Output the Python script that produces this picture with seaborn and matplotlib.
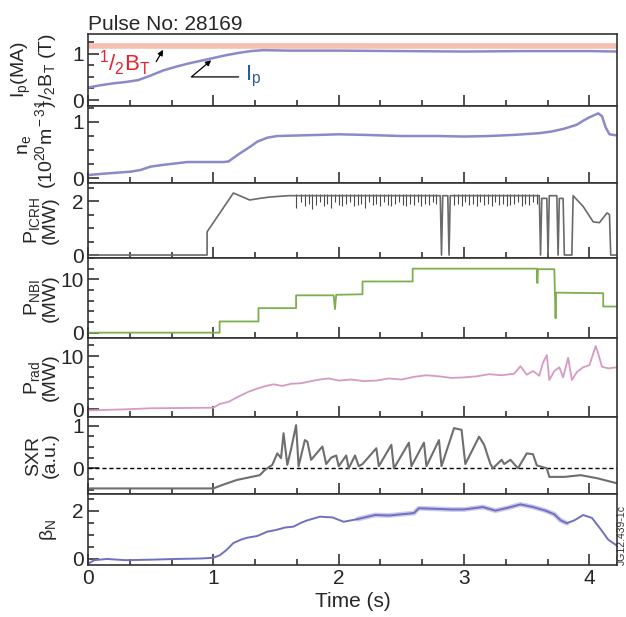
import matplotlib
matplotlib.use("Agg")
import matplotlib.pyplot as plt
import seaborn as sns
from matplotlib.ticker import MultipleLocator

# data (time in s)
ip_t = [0, 0.1, 0.2, 0.3, 0.4, 0.5, 0.6, 0.7, 0.8, 0.9, 1.0, 1.1, 1.2, 1.3, 1.4, 1.6, 2.0, 2.5, 3.0, 3.5, 4.0, 4.22]
ip_v = [0.27, 0.32, 0.36, 0.39, 0.43, 0.53, 0.64, 0.72, 0.79, 0.85, 0.91, 0.97, 1.02, 1.06, 1.08, 1.07, 1.07, 1.06, 1.05, 1.06, 1.06, 1.05]
bt_t = [0, 4.22]
bt_v = [1.16, 1.16]

ne_t = [0, 0.1, 0.34, 0.42, 0.5, 0.6, 0.79, 1.08, 1.12, 1.21, 1.3, 1.35, 1.43, 1.51, 1.85, 2.0, 2.2,
        2.5, 2.8, 3.0, 3.2, 3.4, 3.6, 3.7, 3.8, 3.9, 3.95, 4.0, 4.07, 4.1, 4.13, 4.16, 4.22]
ne_v = [0.06, 0.08, 0.12, 0.15, 0.21, 0.24, 0.29, 0.29, 0.30, 0.44, 0.57, 0.65, 0.72, 0.75, 0.77, 0.78, 0.77,
        0.75, 0.75, 0.74, 0.75, 0.77, 0.8, 0.83, 0.88, 0.95, 1.02, 1.08, 1.15, 1.1, 0.9, 0.78, 0.76]

icrh_t = [0, 0.95, 0.95, 1.16, 1.29, 1.37, 1.45, 1.6, 2.0, 2.5, 2.81, 2.82, 2.83, 2.87, 2.88, 2.89, 3.2, 3.6,
          3.61, 3.62, 3.66, 3.67, 3.68, 3.74, 3.75, 3.76, 3.79, 3.80, 3.86, 3.87, 3.95, 4.03, 4.08, 4.14, 4.16, 4.17, 4.22]
icrh_v = [0, 0, 0.86, 2.3, 2.04, 2.1, 2.15, 2.2, 2.2, 2.2, 2.2, 0, 2.2, 2.2, 0, 2.2, 2.2, 2.2,
          0, 2.1, 2.1, 0, 2.2, 2.2, 0, 2.1, 2.1, 0, 0, 2.2, 1.8, 1.23, 1.2, 1.56, 1.5, 0, 0]
# downward noise spikes on the ICRH trace
spk_t = [1.66, 1.70, 1.73, 1.76, 1.79, 1.82, 1.85, 1.88, 1.91, 1.94, 1.97, 2.00, 2.03, 2.06, 2.09, 2.12,
         2.15, 2.18, 2.21, 2.24, 2.27, 2.30, 2.33, 2.36, 2.39, 2.42, 2.45, 2.48, 2.51, 2.54, 2.57, 2.60,
         2.63, 2.66, 2.69, 2.72, 2.75, 2.78, 2.92, 2.95, 2.98, 3.01, 3.04, 3.07, 3.10, 3.13, 3.16, 3.19,
         3.22, 3.25, 3.28, 3.31, 3.34, 3.37, 3.40, 3.43, 3.46, 3.49, 3.52, 3.55, 3.58]
spk_v = [1.75, 1.95, 1.8, 1.9, 1.7, 1.85, 1.95, 1.8, 1.9, 1.75, 1.95, 1.85, 1.8, 1.9, 1.95, 1.8,
         1.85, 1.9, 1.75, 1.95, 1.85, 1.9, 1.8, 1.95, 1.85, 1.8, 1.9, 1.95, 1.85, 1.8, 1.9, 1.85,
         1.95, 1.8, 1.9, 1.85, 1.95, 1.9, 1.85, 1.9, 1.8, 1.95, 1.85, 1.9, 1.8, 1.95, 1.85, 1.9,
         1.8, 1.95, 1.85, 1.9, 1.8, 1.85, 1.9, 1.95, 1.8, 1.9, 1.85, 1.95, 1.9]

nbi_t = [0, 1.05, 1.05, 1.36, 1.36, 1.66, 1.66, 1.96, 1.97, 1.98, 2.19, 2.19, 2.59, 2.59, 3.58, 3.585,
         3.59, 3.72, 3.73, 3.735, 3.74, 4.11, 4.11, 4.22]
nbi_v = [0, 0, 2.1, 2.1, 4.6, 4.6, 7.0, 7.0, 4.4, 7.1, 7.2, 9.6, 9.6, 12.0, 12.0, 9.3,
         11.9, 11.9, 2.7, 7.5, 7.5, 7.4, 4.9, 4.9]

prad_t = [0, 0.3, 0.5, 1.0, 1.05, 1.12, 1.2, 1.28, 1.35, 1.42, 1.48, 1.55, 1.62, 1.7, 1.78, 1.85, 1.92,
          2.0, 2.1, 2.2, 2.3, 2.4, 2.5, 2.6, 2.7, 2.8, 2.9, 3.0, 3.1, 3.2, 3.3, 3.4, 3.45, 3.5, 3.55,
          3.6, 3.63, 3.66, 3.68, 3.72, 3.76, 3.79, 3.83, 3.86, 3.9, 3.95, 4.0, 4.05, 4.07, 4.1, 4.15, 4.22]
prad_v = [-0.2, 0.0, 0.2, 0.3, 1.0, 1.4, 2.4, 3.3, 3.9, 4.4, 4.7, 4.4, 4.8, 4.9, 5.3, 5.6, 5.8,
          5.4, 5.6, 5.3, 5.4, 5.8, 5.6, 6.1, 6.4, 6.2, 5.9, 6.0, 6.2, 6.6, 6.4, 6.7, 8.1, 6.5, 7.2,
          6.3, 8.8, 10.2, 5.5, 7.2, 7.9, 6.0, 9.7, 5.5, 7.0, 7.9, 8.3, 11.9, 10.5, 8.0, 7.7, 7.9]

sxr_t = [0, 0.58, 1.0, 1.07, 1.19, 1.37, 1.41, 1.47, 1.51, 1.54, 1.56, 1.59, 1.62, 1.66, 1.68, 1.73,
         1.75, 1.78, 1.87, 1.90, 1.94, 1.98, 2.00, 2.06, 2.08, 2.13, 2.16, 2.19, 2.30, 2.32, 2.42, 2.44,
         2.56, 2.58, 2.68, 2.70, 2.80, 2.82, 2.92, 2.98, 3.01, 3.12, 3.16, 3.21, 3.23, 3.30, 3.32, 3.37,
         3.43, 3.50, 3.55, 3.58, 3.66, 3.68, 3.80, 3.93, 4.06, 4.22]
sxr_v = [-0.47, -0.47, -0.47, -0.39, -0.27, -0.16, -0.04, 0.08, 0.35, 0.24, 0.82, 0.08, 0.45, 1.01, 0.05, 0.66,
         0.62, 0.2, 0.51, 0.1, 0.25, 0.3, 0.05, 0.3, 0.0, 0.3, 0.05, 0.1, 0.47, 0.05, 0.55, 0.0,
         0.6, 0.05, 0.6, 0.05, 0.66, 0.05, 0.94, 0.9, 0.1, 0.74, 0.55, 0.1, 0.0, 0.2, 0.1, 0.2,
         0.0, 0.35, 0.33, 0.07, 0.0, -0.2, -0.2, -0.16, -0.23, -0.35]

bn_t = [0, 0.05, 0.15, 0.3, 0.5, 0.7, 0.9, 1.0, 1.05, 1.1, 1.16, 1.22, 1.27, 1.35, 1.43, 1.5, 1.57, 1.64,
        1.7, 1.75, 1.85, 1.95, 2.04, 2.15, 2.29, 2.4, 2.5, 2.6, 2.64, 2.75, 2.9, 3.0, 3.15, 3.25, 3.35,
        3.45, 3.55, 3.65, 3.72, 3.77, 3.82, 3.88, 3.95, 4.02, 4.08, 4.15, 4.22]
bn_v = [-0.2, -0.05, 0.0, -0.05, -0.03, 0.0, 0.02, 0.05, 0.15, 0.35, 0.66, 0.8, 0.88, 0.95, 1.13, 1.2, 1.3, 1.34,
        1.5, 1.6, 1.75, 1.72, 1.54, 1.65, 1.82, 1.8, 1.85, 1.9, 2.1, 2.08, 2.05, 2.05, 2.15, 2.0, 2.12,
        2.26, 2.15, 2.0, 1.85, 1.6, 1.48, 1.6, 1.82, 1.7, 1.3, 0.8, 0.55]

sns.set_style("ticks")
plt.rcParams['font.family'] = ['Liberation Sans', 'DejaVu Sans']
plt.rcParams['mathtext.fontset'] = 'custom'
plt.rcParams['mathtext.rm'] = 'Liberation Sans'
plt.rcParams['mathtext.it'] = 'Liberation Sans:italic'
plt.rcParams['font.size'] = 15

fig = plt.figure(figsize=(6.26, 6.17), dpi=100)
W, H = 626, 617
edges = [34, 106, 183, 258, 338, 417, 494, 565]  # panel boundaries in pixels
left, right = 88, 617
axes = []
for i in range(7):
    top, bot = edges[i], edges[i + 1]
    ax = fig.add_axes([left / W, 1 - bot / H, (right - left) / W, (bot - top) / H],
                      sharex=axes[0] if axes else None)
    axes.append(ax)

# panel settings: ylim, major, minor, label
panels = [
    ((-0.13, 1.43), 1, 0.25, "I$_{\\rm p}$(MA)\n$^{\\rm 1}$/$_{\\rm 2}$B$_{\\rm T}$ (T)"),
    ((-0.08, 1.28), 1, 0.25, "n$_{\\rm e}$\n(10$^{\\rm 20}$m$^{\\rm -3}$)"),
    ((-0.11, 2.67), 2, 0.5, "P$_{\\rm ICRH}$\n(MW)"),
    ((-1.0, 14.0), 10, 2, "P$_{\\rm NBI}$\n(MW)"),
    ((-1.44, 13.4), 10, 2, "P$_{\\rm rad}$\n(MW)"),
    ((-0.6, 1.2), 1, 0.25, "SXR\n(a.u.)"),
    ((-0.25, 2.69), 2, 0.5, "β$_{\\rm N}$"),
]

sns.lineplot(x=bt_t, y=bt_v, ax=axes[0], color="#f5bfae", lw=4, sort=False, estimator=None)
sns.lineplot(x=ip_t, y=ip_v, ax=axes[0], color="#8a8ac8", lw=1.8, sort=False, estimator=None)
sns.lineplot(x=ne_t, y=ne_v, ax=axes[1], color="#8a8ac8", lw=1.8, sort=False, estimator=None)
axes[2].vlines(spk_t, spk_v, 2.28, color="#4a4a4a", lw=0.8)
sns.lineplot(x=icrh_t, y=icrh_v, ax=axes[2], color="#6a6a6a", lw=1.2, sort=False, estimator=None)
sns.lineplot(x=nbi_t, y=nbi_v, ax=axes[3], color="#7fae4e", lw=1.3, sort=False, estimator=None)
sns.lineplot(x=prad_t, y=prad_v, ax=axes[4], color="#d79ac2", lw=1.3, sort=False, estimator=None)
axes[5].axhline(0, color="black", lw=1, ls=(0, (3, 2)))
sns.lineplot(x=sxr_t, y=sxr_v, ax=axes[5], color="#6e6e6e", lw=1.5, sort=False, estimator=None)
sns.lineplot(x=bn_t[23:41], y=bn_v[23:41], ax=axes[6], color="#8a8ad8", lw=3.5, alpha=0.45,
             sort=False, estimator=None)
sns.lineplot(x=bn_t, y=bn_v, ax=axes[6], color="#7070c0", lw=1.4, sort=False, estimator=None)

for i, (ax, (ylim, maj, mnr, lab)) in enumerate(zip(axes, panels)):
    ax.set_xlim(0, 4.22)
    ax.set_ylim(*ylim)
    ax.yaxis.set_major_locator(MultipleLocator(maj))
    ax.yaxis.set_minor_locator(MultipleLocator(mnr))
    ax.xaxis.set_major_locator(MultipleLocator(1))
    ax.xaxis.set_minor_locator(MultipleLocator(1 / 3))
    ax.tick_params(which='both', direction='in', top=False, right=False, bottom=True, left=True,
                   color="#333333", width=1.2, labelsize=15, pad=3)
    ax.tick_params(which='major', length=8)
    ax.tick_params(which='minor', length=4.5)
    for s in ax.spines.values():
        s.set_color("#333333")
        s.set_linewidth(1.2)
    ax.set_ylabel(lab, fontsize=14, linespacing=1.0)
    ax.yaxis.set_label_coords(-0.055, 0.5)
    if i < 6:
        ax.tick_params(labelbottom=False)
        ax.set_xlabel("")

axes[6].set_xlabel("Time (s)", fontsize=15, labelpad=3)
axes[0].set_title("Pulse No: 28169", loc='left', fontsize=15, pad=2)

axes[0].annotate("$^{\\rm 1}$/$_{\\rm 2}$B$_{\\rm T}$", xy=(0.61, 1.14), xytext=(0.09, 0.8),
                 color="#e8202a", fontsize=16, ha='left', va='center',
                 arrowprops=dict(arrowstyle='-|>', color='black', lw=0.9, mutation_scale=8,
                                 connectionstyle="angle,angleA=0,angleB=60,rad=0"))
axes[0].annotate("I$_{\\rm p}$", xy=(1.0, 0.9), xytext=(1.25, 0.5),
                 color="#2a5c9a", fontsize=16, ha='left', va='center',
                 arrowprops=dict(arrowstyle='-|>', color='black', lw=0.9, mutation_scale=8,
                                 connectionstyle="angle,angleA=0,angleB=40,rad=0"))

fig.text(617 / W, 1 - 565 / H, "JG12.439-1c", rotation=90, fontsize=7.5, ha='left', va='bottom',
         color="#333333")

plt.savefig("out.png", dpi=100)
